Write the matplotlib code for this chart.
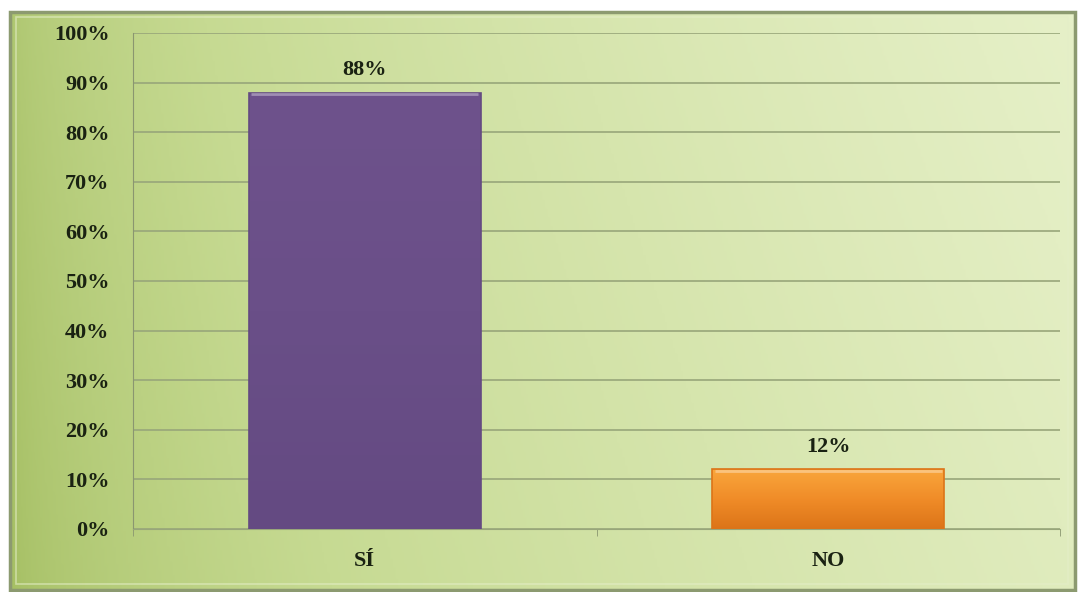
import numpy as np
import matplotlib
matplotlib.use('Agg')
import matplotlib.pyplot as plt
from matplotlib.colors import LinearSegmentedColormap
from matplotlib.patches import Rectangle

# Respuestas
categorias = ['SÍ', 'NO']
porcentajes = [88, 12]
# (claro, medio, oscuro) por barra
colores = [('#6e528c', '#6a4f88', '#644a82'), ('#f9a63c', '#f08c28', '#dc7418')]
ticks_y = np.arange(0, 101, 10)

W, H = 1078, 592
fig = plt.figure(figsize=(W / 100, H / 100), dpi=100)
fig.patch.set_facecolor('white')

# fondo verde degradado con marco biselado
bg = fig.add_axes([0, 0, 1, 1])
bg.set_xlim(0, W)
bg.set_ylim(H, 0)
bg.axis('off')
gx = np.linspace(0, 1, 400)
gy = np.linspace(0, 1, 200)
GX, GY = np.meshgrid(gx, gy)
val = 0.12 + 0.78 * GX ** 0.6 + 0.1 * (1 - GY)
cmap_bg = LinearSegmentedColormap.from_list('verde', ['#9ab653', '#c6da92', '#e6f0c8'])
bg.imshow(val, cmap=cmap_bg, extent=(10, 1075, 590, 12), aspect='auto', vmin=0, vmax=1, zorder=0)
bg.add_patch(Rectangle((10, 12), 1065, 578, fill=False, edgecolor='#8c9a70', lw=2.5, zorder=2))
bg.add_patch(Rectangle((16, 17), 1052, 567, fill=False, edgecolor='#e4eec8', lw=1.2, alpha=0.6, zorder=2))

ax = fig.add_axes([133 / W, (H - 529) / H, (1060 - 133) / W, (529 - 33) / H])
ax.set_facecolor('none')
x = np.arange(len(categorias))
barras = ax.bar(x, porcentajes, width=0.5, color='none', edgecolor='none', zorder=3)
for b, (c1, c2, c3) in zip(barras, colores):
    cm = LinearSegmentedColormap.from_list('b', [c3, c2, c1])
    grad = np.linspace(0, 1, 100).reshape(-1, 1)
    bx, by, bw, bh = b.get_x(), b.get_y(), b.get_width(), b.get_height()
    im = ax.imshow(grad, cmap=cm, origin='lower', aspect='auto',
                   extent=(bx, bx + bw, by, by + bh), zorder=3)
    im.set_clip_path(b)
    ax.add_patch(Rectangle((bx, by), bw, bh, fill=False, edgecolor=c3, lw=1.2, zorder=4))
    # brillo en el borde superior
    ax.plot([bx + 0.005, bx + bw - 0.005], [by + bh - 0.35] * 2, color='white',
            alpha=0.35, lw=2, zorder=4, solid_capstyle='butt')
    ax.text(bx + bw / 2, bh + 2.5, f'{bh:.0f}%',
            ha='center', va='bottom', fontsize=16, fontweight='bold',
            family='Liberation Serif', color='#1a2212', zorder=5)

ax.set_xlim(-0.5, 1.5)
ax.set_ylim(0, 100)
ax.set_yticks(ticks_y)
ax.set_yticklabels([f'{t}%' for t in ticks_y])
ax.set_xticks(x)
ax.set_xticklabels(categorias)
ax.set_xticks([-0.5, 0.5, 1.5], minor=True)
ax.tick_params(axis='x', which='major', length=0, pad=16)
ax.tick_params(axis='x', which='minor', length=5, color='#8a9670')
ax.tick_params(axis='y', length=0, pad=17)
for lab in ax.get_xticklabels() + ax.get_yticklabels():
    lab.set_family('Liberation Serif')
    lab.set_fontweight('bold')
    lab.set_fontsize(16)
    lab.set_color('#1a2212')
ax.grid(axis='y', color='#98a67a', lw=1.2, zorder=1)
ax.set_axisbelow(True)
for s in ['top', 'right']:
    ax.spines[s].set_visible(False)
ax.spines['left'].set_color('#8a9670')
ax.spines['bottom'].set_color('#98a67a')

plt.savefig('out.png', dpi=100)
